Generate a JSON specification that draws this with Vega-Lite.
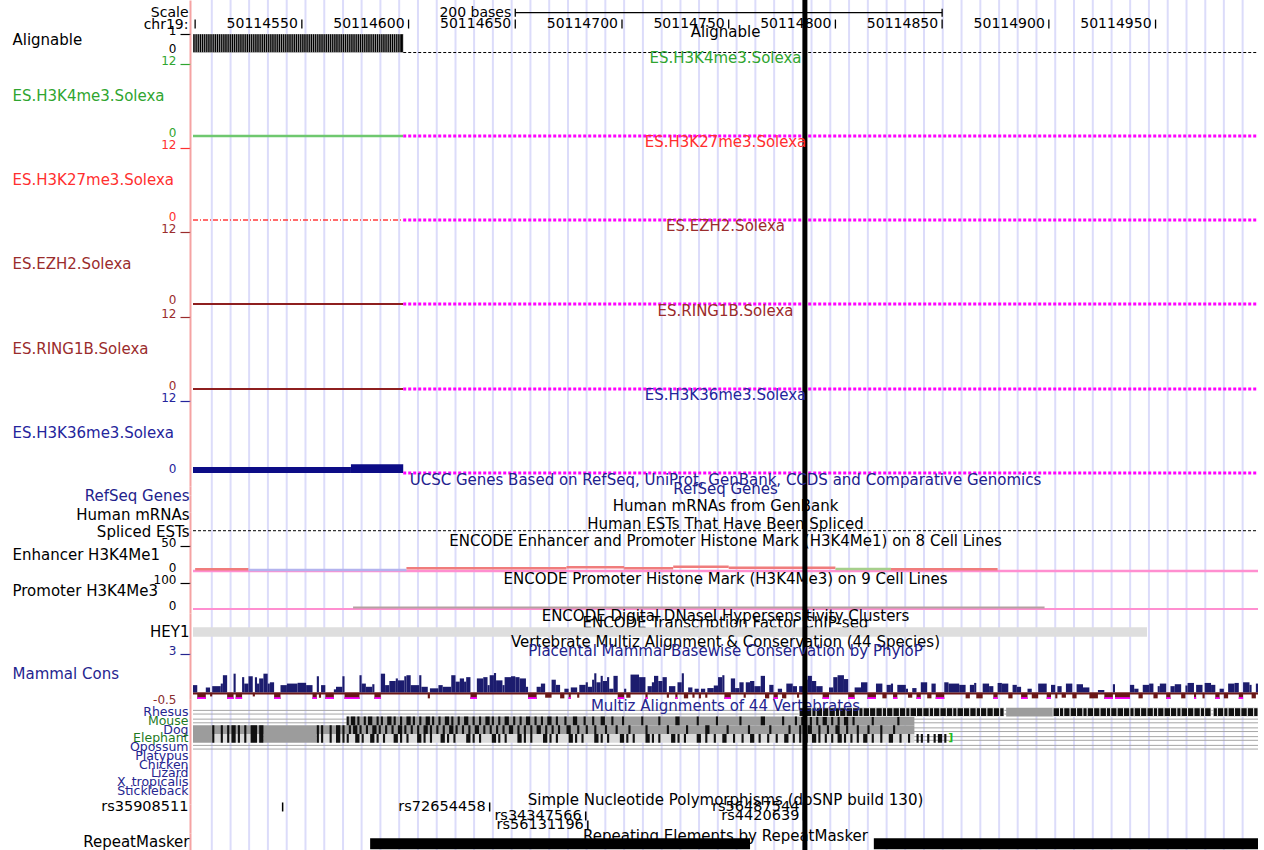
{
"$schema": "https://vega.github.io/schema/vega-lite/v6.json",
"usermeta": {"embedOptions": {"actions": false}},
"background": "#ffffff",
"padding": {"left": 12, "top": 0, "right": 0, "bottom": 0},
"spacing": 0,
"bounds": "flush",
"resolve": {"scale": {"color": "independent"}},
"config": {
  "view": {"stroke": null},
  "font": "DejaVu Sans",
  "text": {"font": "DejaVu Sans", "fontSize": 15},
  "tick": {"opacity": 1},
  "axisX": {"disable": true},
  "axisY": {"offset": 3, "domainColor": "#f5a3a3", "domainWidth": 2, "grid": false, "ticks": false, "labelFont": "DejaVu Sans", "labelFontSize": 12, "labelColor": "#000000", "labelBaseline": "alphabetic", "labelPadding": 4, "labelAlign": "right", "tickSize": 10, "tickWidth": 1.2, "titleFont": "DejaVu Sans", "titleFontSize": 15, "titleFontWeight": "normal", "titleAngle": 0, "titleBaseline": "middle", "titleColor": "#000000", "titlePadding": 0},
  "concat": {"spacing": 0}
},
"datasets": {
  "guides": [{"g":50114507.8},{"g":50114516.6},{"g":50114525.3},{"g":50114534.1},{"g":50114542.9},{"g":50114551.7},{"g":50114560.5},{"g":50114569.3},{"g":50114578.0},{"g":50114586.8},{"g":50114595.6},{"g":50114604.4},{"g":50114613.2},{"g":50114622.0},{"g":50114630.7},{"g":50114639.5},{"g":50114648.3},{"g":50114657.1},{"g":50114665.9},{"g":50114674.7},{"g":50114683.4},{"g":50114692.2},{"g":50114701.0},{"g":50114709.8},{"g":50114718.6},{"g":50114727.4},{"g":50114736.1},{"g":50114744.9},{"g":50114753.7},{"g":50114762.5},{"g":50114771.3},{"g":50114780.0},{"g":50114788.8},{"g":50114797.6},{"g":50114806.4},{"g":50114815.2},{"g":50114824.0},{"g":50114832.7},{"g":50114841.5},{"g":50114850.3},{"g":50114859.1},{"g":50114867.9},{"g":50114876.7},{"g":50114885.4},{"g":50114894.2},{"g":50114903.0},{"g":50114911.8},{"g":50114920.6},{"g":50114929.4},{"g":50114938.1},{"g":50114946.9},{"g":50114955.7},{"g":50114964.5},{"g":50114973.3},{"g":50114982.0},{"g":50114990.8}],
  "marker": [{"pos": 50114785.7}],
  "ruler": [{"pos":50114500,"label":"","line":"chr19:"},{"pos":50114550,"label":"50114550","line":"chr19:"},{"pos":50114600,"label":"50114600","line":"chr19:"},{"pos":50114650,"label":"50114650","line":"chr19:"},{"pos":50114700,"label":"50114700","line":"chr19:"},{"pos":50114750,"label":"50114750","line":"chr19:"},{"pos":50114800,"label":"50114800","line":"chr19:"},{"pos":50114850,"label":"50114850","line":"chr19:"},{"pos":50114900,"label":"50114900","line":"chr19:"},{"pos":50114950,"label":"50114950","line":"chr19:"}],
  "scalebar": [{"s":50114650,"e":50114850,"label":"200 bases","line":"Scale"}],
  "alignable": [
{"s":50114499,"e":50114500,"v":1},{"s":50114500,"e":50114501,"v":1},{"s":50114501,"e":50114502,"v":1},{"s":50114502,"e":50114503,"v":1},{"s":50114503,"e":50114504,"v":1},{"s":50114504,"e":50114505,"v":1},{"s":50114505,"e":50114506,"v":1},{"s":50114506,"e":50114507,"v":1},{"s":50114507,"e":50114508,"v":1},{"s":50114508,"e":50114509,"v":1},
{"s":50114509,"e":50114510,"v":1},{"s":50114510,"e":50114511,"v":1},{"s":50114511,"e":50114512,"v":1},{"s":50114512,"e":50114513,"v":1},{"s":50114513,"e":50114514,"v":1},{"s":50114514,"e":50114515,"v":1},{"s":50114515,"e":50114516,"v":1},{"s":50114516,"e":50114517,"v":1},{"s":50114517,"e":50114518,"v":1},{"s":50114518,"e":50114519,"v":1},
{"s":50114519,"e":50114520,"v":1},{"s":50114520,"e":50114521,"v":1},{"s":50114521,"e":50114522,"v":1},{"s":50114522,"e":50114523,"v":1},{"s":50114523,"e":50114524,"v":1},{"s":50114524,"e":50114525,"v":1},{"s":50114525,"e":50114526,"v":1},{"s":50114526,"e":50114527,"v":1},{"s":50114527,"e":50114528,"v":1},{"s":50114528,"e":50114529,"v":1},
{"s":50114529,"e":50114530,"v":1},{"s":50114530,"e":50114531,"v":1},{"s":50114531,"e":50114532,"v":1},{"s":50114532,"e":50114533,"v":1},{"s":50114533,"e":50114534,"v":1},{"s":50114534,"e":50114535,"v":1},{"s":50114535,"e":50114536,"v":1},{"s":50114536,"e":50114537,"v":1},{"s":50114537,"e":50114538,"v":1},{"s":50114538,"e":50114539,"v":1},
{"s":50114539,"e":50114540,"v":1},{"s":50114540,"e":50114541,"v":1},{"s":50114541,"e":50114542,"v":1},{"s":50114542,"e":50114543,"v":1},{"s":50114543,"e":50114544,"v":1},{"s":50114544,"e":50114545,"v":1},{"s":50114545,"e":50114546,"v":1},{"s":50114546,"e":50114547,"v":1},{"s":50114547,"e":50114548,"v":1},{"s":50114548,"e":50114549,"v":1},
{"s":50114549,"e":50114550,"v":1},{"s":50114550,"e":50114551,"v":1},{"s":50114551,"e":50114552,"v":1},{"s":50114552,"e":50114553,"v":1},{"s":50114553,"e":50114554,"v":1},{"s":50114554,"e":50114555,"v":1},{"s":50114555,"e":50114556,"v":1},{"s":50114556,"e":50114557,"v":1},{"s":50114557,"e":50114558,"v":1},{"s":50114558,"e":50114559,"v":1},
{"s":50114559,"e":50114560,"v":1},{"s":50114560,"e":50114561,"v":1},{"s":50114561,"e":50114562,"v":1},{"s":50114562,"e":50114563,"v":1},{"s":50114563,"e":50114564,"v":1},{"s":50114564,"e":50114565,"v":1},{"s":50114565,"e":50114566,"v":1},{"s":50114566,"e":50114567,"v":1},{"s":50114567,"e":50114568,"v":1},{"s":50114568,"e":50114569,"v":1},
{"s":50114569,"e":50114570,"v":1},{"s":50114570,"e":50114571,"v":1},{"s":50114571,"e":50114572,"v":1},{"s":50114572,"e":50114573,"v":1},{"s":50114573,"e":50114574,"v":1},{"s":50114574,"e":50114575,"v":1},{"s":50114575,"e":50114576,"v":1},{"s":50114576,"e":50114577,"v":1},{"s":50114577,"e":50114578,"v":1},{"s":50114578,"e":50114579,"v":1},
{"s":50114579,"e":50114580,"v":1},{"s":50114580,"e":50114581,"v":1},{"s":50114581,"e":50114582,"v":1},{"s":50114582,"e":50114583,"v":1},{"s":50114583,"e":50114584,"v":1},{"s":50114584,"e":50114585,"v":1},{"s":50114585,"e":50114586,"v":1},{"s":50114586,"e":50114587,"v":1},{"s":50114587,"e":50114588,"v":1},{"s":50114588,"e":50114589,"v":1},
{"s":50114589,"e":50114590,"v":1},{"s":50114590,"e":50114591,"v":1},{"s":50114591,"e":50114592,"v":1},{"s":50114592,"e":50114593,"v":1},{"s":50114593,"e":50114594,"v":1},{"s":50114594,"e":50114595,"v":1},{"s":50114595,"e":50114596,"v":1},{"s":50114596,"e":50114597.5,"v":1}],
  "es": [
{"track":"H3K4me3","kind":"signal","s":50114499,"e":50114597.5,"v":0},{"track":"H3K4me3","kind":"nodata","s":50114597.5,"e":50114998,"v":0},
{"track":"H3K27me3","kind":"signal","s":50114499,"e":50114597.5,"v":0},{"track":"H3K27me3","kind":"nodata","s":50114597.5,"e":50114998,"v":0},
{"track":"EZH2","kind":"signal","s":50114499,"e":50114597.5,"v":0},{"track":"EZH2","kind":"nodata","s":50114597.5,"e":50114998,"v":0},
{"track":"RING1B","kind":"signal","s":50114499,"e":50114597.5,"v":0},{"track":"RING1B","kind":"nodata","s":50114597.5,"e":50114998,"v":0},
{"track":"H3K36me3","kind":"signal","s":50114499,"e":50114573,"v":1.0},{"track":"H3K36me3","kind":"signal","s":50114573,"e":50114597.5,"v":1.45},{"track":"H3K36me3","kind":"nodata","s":50114597.5,"e":50114998,"v":0}],
  "enh": [{"cell":"HUVEC","s":50114499,"e":50114998,"v":0},{"cell":"K562","s":50114500,"e":50114525,"v":3.3},{"cell":"HMEC","s":50114525,"e":50114599,"v":2},{"cell":"K562","s":50114599,"e":50114674,"v":5.3},{"cell":"K562","s":50114674,"e":50114701,"v":7.3},{"cell":"K562","s":50114701,"e":50114724,"v":5.5},{"cell":"K562","s":50114724,"e":50114750,"v":8.4},{"cell":"K562","s":50114750,"e":50114800,"v":6.5},{"cell":"H1-hESC","s":50114800,"e":50114826,"v":4},{"cell":"K562","s":50114826,"e":50114876,"v":3.3}],
  "prom": [{"cell":"HUVEC","s":50114499,"e":50114998,"v":0},{"cell":"GM12878","s":50114574,"e":50114898,"v":5.7}],
  "tfbs": [{"name":"HEY1","s":50114499,"e":50114946}],
  "phylop": [
{"s":50114499,"e":50114501,"v":0.58},{"s":50114501,"e":50114505,"v":-0.6},{"s":50114505,"e":50114507,"v":0.4},{"s":50114507,"e":50114508,"v":-0.3},{"s":50114508,"e":50114512,"v":0.5},{"s":50114512,"e":50114513,"v":0.7},{"s":50114513,"e":50114515,"v":1.35},{"s":50114515,"e":50114518,"v":-0.6},{"s":50114518,"e":50114519,"v":1.47},{"s":50114519,"e":50114522,"v":-0.6},
{"s":50114522,"e":50114523,"v":1.2},{"s":50114523,"e":50114525,"v":0.7},{"s":50114525,"e":50114527,"v":1.27},{"s":50114527,"e":50114528,"v":-0.3},{"s":50114528,"e":50114529,"v":1.2},{"s":50114529,"e":50114530,"v":0.7},{"s":50114530,"e":50114532,"v":1.1},{"s":50114532,"e":50114534,"v":1.47},{"s":50114534,"e":50114535,"v":0.7},{"s":50114535,"e":50114537,"v":0.8},
{"s":50114537,"e":50114540,"v":-0.6},{"s":50114540,"e":50114543,"v":0.58},{"s":50114543,"e":50114548,"v":0.7},{"s":50114548,"e":50114552,"v":0.76},{"s":50114552,"e":50114555,"v":0.58},{"s":50114555,"e":50114557,"v":-0.6},{"s":50114557,"e":50114558,"v":1.27},{"s":50114558,"e":50114559,"v":-0.4},{"s":50114559,"e":50114561,"v":0.58},{"s":50114561,"e":50114565,"v":-0.6},
{"s":50114565,"e":50114566,"v":0.25},{"s":50114566,"e":50114569,"v":0.45},{"s":50114569,"e":50114570,"v":1.27},{"s":50114570,"e":50114577,"v":-0.6},{"s":50114577,"e":50114578,"v":1.35},{"s":50114578,"e":50114580,"v":0.7},{"s":50114580,"e":50114583,"v":0.45},{"s":50114583,"e":50114584,"v":0.65},{"s":50114584,"e":50114587,"v":-0.6},{"s":50114587,"e":50114589,"v":1.47},
{"s":50114589,"e":50114591,"v":0.58},{"s":50114591,"e":50114594,"v":0.9},{"s":50114594,"e":50114595,"v":1.1},{"s":50114595,"e":50114598,"v":0.95},{"s":50114598,"e":50114599,"v":1.27},{"s":50114599,"e":50114601,"v":1.35},{"s":50114601,"e":50114605,"v":0.58},{"s":50114605,"e":50114606,"v":1.35},{"s":50114606,"e":50114609,"v":0.45},{"s":50114609,"e":50114610,"v":-0.45},
{"s":50114610,"e":50114614,"v":0.33},{"s":50114614,"e":50114616,"v":0.58},{"s":50114616,"e":50114620,"v":0.45},{"s":50114620,"e":50114622,"v":1.35},{"s":50114622,"e":50114624,"v":0.85},{"s":50114624,"e":50114626,"v":1.1},{"s":50114626,"e":50114627,"v":0.85},{"s":50114627,"e":50114629,"v":1.2},{"s":50114629,"e":50114632,"v":-0.6},{"s":50114632,"e":50114635,"v":1.1},
{"s":50114635,"e":50114637,"v":1.2},{"s":50114637,"e":50114638,"v":0.58},{"s":50114638,"e":50114640,"v":1.35},{"s":50114640,"e":50114641,"v":1.52},{"s":50114641,"e":50114644,"v":0.95},{"s":50114644,"e":50114645,"v":0.58},{"s":50114645,"e":50114648,"v":1.2},{"s":50114648,"e":50114650,"v":1.27},{"s":50114650,"e":50114652,"v":1.2},{"s":50114652,"e":50114655,"v":1.1},
{"s":50114655,"e":50114656,"v":0.45},{"s":50114656,"e":50114660,"v":-0.6},{"s":50114660,"e":50114662,"v":0.45},{"s":50114662,"e":50114664,"v":0.7},{"s":50114664,"e":50114667,"v":-0.4},{"s":50114667,"e":50114669,"v":1.0},{"s":50114669,"e":50114671,"v":0.6},{"s":50114671,"e":50114673,"v":-0.45},{"s":50114673,"e":50114675,"v":0.3},{"s":50114675,"e":50114676,"v":-0.6},
{"s":50114676,"e":50114679,"v":0.4},{"s":50114679,"e":50114680,"v":-0.4},{"s":50114680,"e":50114683,"v":0.6},{"s":50114683,"e":50114684,"v":0.8},{"s":50114684,"e":50114686,"v":0.45},{"s":50114686,"e":50114687,"v":1.0},{"s":50114687,"e":50114688,"v":1.5},{"s":50114688,"e":50114690,"v":0.8},{"s":50114690,"e":50114691,"v":1.3},{"s":50114691,"e":50114693,"v":0.9},
{"s":50114693,"e":50114694,"v":1.2},{"s":50114694,"e":50114696,"v":0.3},{"s":50114696,"e":50114698,"v":1.3},{"s":50114698,"e":50114701,"v":-0.6},{"s":50114701,"e":50114702,"v":0.3},{"s":50114702,"e":50114704,"v":-0.4},{"s":50114704,"e":50114708,"v":1.4},{"s":50114708,"e":50114711,"v":1.2},{"s":50114711,"e":50114712,"v":-0.6},{"s":50114712,"e":50114714,"v":0.5},
{"s":50114714,"e":50114715,"v":0.8},{"s":50114715,"e":50114717,"v":1.3},{"s":50114717,"e":50114719,"v":0.9},{"s":50114719,"e":50114721,"v":1.2},{"s":50114721,"e":50114722,"v":-0.4},{"s":50114722,"e":50114725,"v":0.5},{"s":50114725,"e":50114726,"v":-0.6},{"s":50114726,"e":50114728,"v":0.8},{"s":50114728,"e":50114729,"v":1.5},{"s":50114729,"e":50114731,"v":-0.45},
{"s":50114731,"e":50114733,"v":0.4},{"s":50114733,"e":50114734,"v":-0.4},{"s":50114734,"e":50114736,"v":0.3},{"s":50114736,"e":50114737,"v":-0.45},{"s":50114737,"e":50114739,"v":0.3},{"s":50114739,"e":50114740,"v":-0.4},{"s":50114740,"e":50114743,"v":0.35},{"s":50114743,"e":50114745,"v":0.55},{"s":50114745,"e":50114747,"v":1.2},{"s":50114747,"e":50114748,"v":1.35},
{"s":50114748,"e":50114751,"v":-0.6},{"s":50114751,"e":50114753,"v":1.1},{"s":50114753,"e":50114755,"v":0.35},{"s":50114755,"e":50114757,"v":0.8},{"s":50114757,"e":50114758,"v":-0.4},{"s":50114758,"e":50114760,"v":0.8},{"s":50114760,"e":50114762,"v":0.9},{"s":50114762,"e":50114765,"v":0.5},{"s":50114765,"e":50114767,"v":1.3},{"s":50114767,"e":50114769,"v":-0.45},
{"s":50114769,"e":50114771,"v":0.6},{"s":50114771,"e":50114773,"v":-0.6},{"s":50114773,"e":50114775,"v":0.3},{"s":50114775,"e":50114777,"v":-0.45},{"s":50114777,"e":50114780,"v":0.7},{"s":50114780,"e":50114782,"v":0.5},{"s":50114782,"e":50114783,"v":-0.4},{"s":50114783,"e":50114785,"v":0.5},{"s":50114785,"e":50114787,"v":1.0},{"s":50114787,"e":50114789,"v":1.3},
{"s":50114789,"e":50114791,"v":0.9},{"s":50114791,"e":50114794,"v":0.5},{"s":50114794,"e":50114797,"v":-0.6},{"s":50114797,"e":50114799,"v":0.4},{"s":50114799,"e":50114801,"v":1.2},{"s":50114801,"e":50114804,"v":1.35},{"s":50114804,"e":50114806,"v":1.05},{"s":50114806,"e":50114809,"v":-0.6},{"s":50114809,"e":50114812,"v":0.4},{"s":50114812,"e":50114815,"v":0.8},
{"s":50114815,"e":50114819,"v":-0.6},{"s":50114819,"e":50114822,"v":0.7},{"s":50114822,"e":50114824,"v":-0.45},{"s":50114824,"e":50114826,"v":0.6},{"s":50114826,"e":50114827,"v":0.7},{"s":50114827,"e":50114829,"v":-0.6},{"s":50114829,"e":50114833,"v":0.6},{"s":50114833,"e":50114834,"v":0.3},{"s":50114834,"e":50114836,"v":-0.4},{"s":50114836,"e":50114838,"v":0.35},
{"s":50114838,"e":50114840,"v":-0.6},{"s":50114840,"e":50114843,"v":0.8},{"s":50114843,"e":50114845,"v":-0.45},{"s":50114845,"e":50114847,"v":0.7},{"s":50114847,"e":50114851,"v":-0.6},{"s":50114851,"e":50114853,"v":0.8},{"s":50114853,"e":50114858,"v":0.7},{"s":50114858,"e":50114861,"v":0.6},{"s":50114861,"e":50114863,"v":-0.45},{"s":50114863,"e":50114865,"v":0.6},
{"s":50114865,"e":50114866,"v":0.75},{"s":50114866,"e":50114869,"v":-0.45},{"s":50114869,"e":50114872,"v":0.7},{"s":50114872,"e":50114874,"v":0.5},{"s":50114874,"e":50114876,"v":-0.6},{"s":50114876,"e":50114878,"v":0.75},{"s":50114878,"e":50114881,"v":0.7},{"s":50114881,"e":50114883,"v":-0.45},{"s":50114883,"e":50114885,"v":0.6},{"s":50114885,"e":50114887,"v":0.45},
{"s":50114887,"e":50114890,"v":-0.6},{"s":50114890,"e":50114892,"v":0.3},{"s":50114892,"e":50114895,"v":-0.45},{"s":50114895,"e":50114899,"v":0.7},{"s":50114899,"e":50114901,"v":-0.6},{"s":50114901,"e":50114903,"v":0.6},{"s":50114903,"e":50114904,"v":-0.45},{"s":50114904,"e":50114906,"v":0.5},{"s":50114906,"e":50114908,"v":-0.4},{"s":50114908,"e":50114911,"v":0.7},
{"s":50114911,"e":50114913,"v":-0.45},{"s":50114913,"e":50114916,"v":0.65},{"s":50114916,"e":50114919,"v":0.4},{"s":50114919,"e":50114923,"v":-0.45},{"s":50114923,"e":50114926,"v":0.2},{"s":50114926,"e":50114930,"v":-0.6},{"s":50114930,"e":50114931,"v":0.65},{"s":50114931,"e":50114938,"v":-0.6},{"s":50114938,"e":50114940,"v":0.6},{"s":50114940,"e":50114942,"v":0.3},
{"s":50114942,"e":50114944,"v":-0.45},{"s":50114944,"e":50114947,"v":0.6},{"s":50114947,"e":50114949,"v":0.7},{"s":50114949,"e":50114951,"v":-0.45},{"s":50114951,"e":50114952,"v":0.5},{"s":50114952,"e":50114955,"v":0.7},{"s":50114955,"e":50114957,"v":-0.6},{"s":50114957,"e":50114959,"v":0.5},{"s":50114959,"e":50114962,"v":0.65},{"s":50114962,"e":50114964,"v":-0.45},
{"s":50114964,"e":50114965,"v":0.55},{"s":50114965,"e":50114968,"v":0.75},{"s":50114968,"e":50114969,"v":-0.6},{"s":50114969,"e":50114972,"v":0.6},{"s":50114972,"e":50114973,"v":-0.45},{"s":50114973,"e":50114976,"v":0.75},{"s":50114976,"e":50114978,"v":0.6},{"s":50114978,"e":50114980,"v":-0.6},{"s":50114980,"e":50114982,"v":0.3},{"s":50114982,"e":50114984,"v":-0.45},
{"s":50114984,"e":50114987,"v":0.7},{"s":50114987,"e":50114989,"v":0.75},{"s":50114989,"e":50114991,"v":-0.6},{"s":50114991,"e":50114994,"v":0.8},{"s":50114994,"e":50114995,"v":0.6},{"s":50114995,"e":50114997,"v":-0.45},{"s":50114997,"e":50114998,"v":0.7}],
  "species": [{"sp":"Rhesus"},{"sp":"Mouse"},{"sp":"Dog"},{"sp":"Elephant"},{"sp":"Opossum"}],
  "multiz": [
{"sp":"Rhesus","s":50114880,"e":50114902,"c":"g"},{"sp":"Mouse","s":50114571,"e":50114837,"c":"g"},{"sp":"Dog","s":50114499,"e":50114837,"c":"g"},{"sp":"Elephant","s":50114499,"e":50114508,"c":"g"},{"sp":"Elephant","s":50114508,"e":50114532,"c":"l"},{"sp":"Elephant","s":50114532,"e":50114557,"c":"g"},{"sp":"Elephant","s":50114557,"e":50114837,"c":"l"},
{"sp":"Rhesus","s":50114783,"e":50114786,"c":"k"},{"sp":"Rhesus","s":50114786,"e":50114789,"c":"k"},{"sp":"Rhesus","s":50114789,"e":50114791,"c":"k"},{"sp":"Rhesus","s":50114791,"e":50114794,"c":"k"},{"sp":"Rhesus","s":50114794,"e":50114797,"c":"k"},{"sp":"Rhesus","s":50114797,"e":50114800,"c":"k"},{"sp":"Rhesus","s":50114800,"e":50114802,"c":"k"},{"sp":"Rhesus","s":50114802,"e":50114805,"c":"k"},{"sp":"Rhesus","s":50114805,"e":50114808,"c":"k"},{"sp":"Rhesus","s":50114808,"e":50114811,"c":"k"},
{"sp":"Rhesus","s":50114811,"e":50114813,"c":"k"},{"sp":"Rhesus","s":50114813,"e":50114816,"c":"k"},{"sp":"Rhesus","s":50114816,"e":50114819,"c":"k"},{"sp":"Rhesus","s":50114819,"e":50114822,"c":"k"},{"sp":"Rhesus","s":50114822,"e":50114824,"c":"k"},{"sp":"Rhesus","s":50114824,"e":50114827,"c":"k"},{"sp":"Rhesus","s":50114827,"e":50114830,"c":"k"},{"sp":"Rhesus","s":50114830,"e":50114833,"c":"k"},{"sp":"Rhesus","s":50114833,"e":50114835,"c":"k"},{"sp":"Rhesus","s":50114835,"e":50114838,"c":"k"},
{"sp":"Rhesus","s":50114838,"e":50114841,"c":"k"},{"sp":"Rhesus","s":50114841,"e":50114844,"c":"k"},{"sp":"Rhesus","s":50114844,"e":50114846,"c":"k"},{"sp":"Rhesus","s":50114846,"e":50114849,"c":"k"},{"sp":"Rhesus","s":50114849,"e":50114852,"c":"k"},{"sp":"Rhesus","s":50114852,"e":50114855,"c":"k"},{"sp":"Rhesus","s":50114855,"e":50114857,"c":"k"},{"sp":"Rhesus","s":50114857,"e":50114860,"c":"k"},{"sp":"Rhesus","s":50114860,"e":50114863,"c":"k"},{"sp":"Rhesus","s":50114863,"e":50114866,"c":"k"},
{"sp":"Rhesus","s":50114866,"e":50114868,"c":"k"},{"sp":"Rhesus","s":50114868,"e":50114871,"c":"k"},{"sp":"Rhesus","s":50114871,"e":50114874,"c":"k"},{"sp":"Rhesus","s":50114874,"e":50114877,"c":"k"},{"sp":"Rhesus","s":50114877,"e":50114879,"c":"k"},
{"sp":"Rhesus","s":50114902,"e":50114905,"c":"k"},{"sp":"Rhesus","s":50114905,"e":50114907,"c":"k"},{"sp":"Rhesus","s":50114907,"e":50114910,"c":"k"},{"sp":"Rhesus","s":50114910,"e":50114913,"c":"k"},{"sp":"Rhesus","s":50114913,"e":50114916,"c":"k"},{"sp":"Rhesus","s":50114916,"e":50114918,"c":"k"},{"sp":"Rhesus","s":50114918,"e":50114921,"c":"k"},{"sp":"Rhesus","s":50114921,"e":50114924,"c":"k"},{"sp":"Rhesus","s":50114924,"e":50114927,"c":"k"},{"sp":"Rhesus","s":50114927,"e":50114929,"c":"k"},
{"sp":"Rhesus","s":50114929,"e":50114932,"c":"k"},{"sp":"Rhesus","s":50114932,"e":50114935,"c":"k"},{"sp":"Rhesus","s":50114935,"e":50114938,"c":"k"},{"sp":"Rhesus","s":50114938,"e":50114940,"c":"k"},{"sp":"Rhesus","s":50114940,"e":50114943,"c":"k"},{"sp":"Rhesus","s":50114943,"e":50114946,"c":"k"},{"sp":"Rhesus","s":50114946,"e":50114949,"c":"k"},{"sp":"Rhesus","s":50114949,"e":50114951,"c":"k"},{"sp":"Rhesus","s":50114951,"e":50114954,"c":"k"},{"sp":"Rhesus","s":50114954,"e":50114957,"c":"k"},
{"sp":"Rhesus","s":50114957,"e":50114960,"c":"k"},{"sp":"Rhesus","s":50114960,"e":50114962,"c":"k"},{"sp":"Rhesus","s":50114962,"e":50114965,"c":"k"},{"sp":"Rhesus","s":50114965,"e":50114968,"c":"k"},{"sp":"Rhesus","s":50114968,"e":50114971,"c":"k"},{"sp":"Rhesus","s":50114971,"e":50114973,"c":"k"},{"sp":"Rhesus","s":50114973,"e":50114976,"c":"k"},{"sp":"Rhesus","s":50114977,"e":50114979,"c":"k"},{"sp":"Rhesus","s":50114979,"e":50114982,"c":"k"},{"sp":"Rhesus","s":50114982,"e":50114984,"c":"k"},
{"sp":"Rhesus","s":50114984,"e":50114987,"c":"k"},{"sp":"Rhesus","s":50114987,"e":50114990,"c":"k"},{"sp":"Rhesus","s":50114990,"e":50114993,"c":"k"},{"sp":"Rhesus","s":50114993,"e":50114996,"c":"k"},{"sp":"Rhesus","s":50114996,"e":50114998,"c":"k"},
{"sp":"Mouse","s":50114571,"e":50114572,"c":"k"},{"sp":"Mouse","s":50114573,"e":50114575,"c":"k"},{"sp":"Mouse","s":50114576,"e":50114577,"c":"k"},{"sp":"Mouse","s":50114579,"e":50114580,"c":"k"},{"sp":"Mouse","s":50114581,"e":50114583,"c":"k"},{"sp":"Mouse","s":50114585,"e":50114586,"c":"k"},{"sp":"Mouse","s":50114587,"e":50114588,"c":"k"},{"sp":"Mouse","s":50114590,"e":50114592,"c":"k"},{"sp":"Mouse","s":50114593,"e":50114594,"c":"k"},{"sp":"Mouse","s":50114596,"e":50114597,"c":"k"},
{"sp":"Mouse","s":50114599,"e":50114601,"c":"k"},{"sp":"Mouse","s":50114602,"e":50114603,"c":"k"},{"sp":"Mouse","s":50114605,"e":50114606,"c":"k"},{"sp":"Mouse","s":50114608,"e":50114610,"c":"k"},{"sp":"Mouse","s":50114611,"e":50114612,"c":"k"},{"sp":"Mouse","s":50114614,"e":50114615,"c":"k"},{"sp":"Mouse","s":50114617,"e":50114619,"c":"k"},{"sp":"Mouse","s":50114620,"e":50114621,"c":"k"},{"sp":"Mouse","s":50114623,"e":50114624,"c":"k"},{"sp":"Mouse","s":50114626,"e":50114628,"c":"k"},
{"sp":"Mouse","s":50114630,"e":50114631,"c":"k"},{"sp":"Mouse","s":50114633,"e":50114634,"c":"k"},{"sp":"Mouse","s":50114636,"e":50114638,"c":"k"},{"sp":"Mouse","s":50114639,"e":50114640,"c":"k"},{"sp":"Mouse","s":50114642,"e":50114643,"c":"k"},{"sp":"Mouse","s":50114645,"e":50114647,"c":"k"},{"sp":"Mouse","s":50114649,"e":50114650,"c":"k"},{"sp":"Mouse","s":50114652,"e":50114653,"c":"k"},{"sp":"Mouse","s":50114655,"e":50114657,"c":"k"},{"sp":"Mouse","s":50114659,"e":50114660,"c":"k"},
{"sp":"Mouse","s":50114662,"e":50114663,"c":"k"},{"sp":"Mouse","s":50114665,"e":50114667,"c":"k"},{"sp":"Mouse","s":50114669,"e":50114670,"c":"k"},{"sp":"Mouse","s":50114673,"e":50114674,"c":"k"},{"sp":"Mouse","s":50114677,"e":50114679,"c":"k"},{"sp":"Mouse","s":50114682,"e":50114683,"c":"k"},{"sp":"Mouse","s":50114686,"e":50114687,"c":"k"},{"sp":"Mouse","s":50114690,"e":50114692,"c":"k"},{"sp":"Mouse","s":50114695,"e":50114696,"c":"k"},{"sp":"Mouse","s":50114700,"e":50114701,"c":"k"},
{"sp":"Mouse","s":50114709,"e":50114710,"c":"k"},{"sp":"Mouse","s":50114717,"e":50114718,"c":"k"},{"sp":"Mouse","s":50114725,"e":50114727,"c":"k"},{"sp":"Mouse","s":50114735,"e":50114736,"c":"k"},{"sp":"Mouse","s":50114744,"e":50114745,"c":"k"},{"sp":"Mouse","s":50114755,"e":50114756,"c":"k"},{"sp":"Mouse","s":50114765,"e":50114767,"c":"k"},{"sp":"Mouse","s":50114775,"e":50114776,"c":"k"},{"sp":"Mouse","s":50114781,"e":50114782,"c":"k"},{"sp":"Mouse","s":50114784,"e":50114786,"c":"k"},
{"sp":"Mouse","s":50114788,"e":50114789,"c":"k"},{"sp":"Mouse","s":50114791,"e":50114792,"c":"k"},{"sp":"Mouse","s":50114794,"e":50114796,"c":"k"},{"sp":"Mouse","s":50114798,"e":50114799,"c":"k"},{"sp":"Mouse","s":50114801,"e":50114802,"c":"k"},{"sp":"Mouse","s":50114804,"e":50114806,"c":"k"},{"sp":"Mouse","s":50114808,"e":50114809,"c":"k"},{"sp":"Mouse","s":50114817,"e":50114818,"c":"k"},{"sp":"Mouse","s":50114829,"e":50114830,"c":"k"},
{"sp":"Dog","s":50114508,"e":50114509,"c":"k"},{"sp":"Dog","s":50114512,"e":50114513,"c":"k"},{"sp":"Dog","s":50114515,"e":50114516,"c":"k"},{"sp":"Dog","s":50114517,"e":50114519,"c":"k"},{"sp":"Dog","s":50114520,"e":50114521,"c":"k"},{"sp":"Dog","s":50114523,"e":50114524,"c":"k"},{"sp":"Dog","s":50114526,"e":50114529,"c":"k"},{"sp":"Dog","s":50114530,"e":50114532,"c":"k"},{"sp":"Dog","s":50114557,"e":50114558,"c":"k"},{"sp":"Dog","s":50114559,"e":50114560,"c":"k"},
{"sp":"Dog","s":50114563,"e":50114564,"c":"k"},{"sp":"Dog","s":50114566,"e":50114568,"c":"k"},{"sp":"Dog","s":50114569,"e":50114570,"c":"k"},
{"sp":"Dog","s":50114572,"e":50114573,"c":"k"},{"sp":"Dog","s":50114574,"e":50114576,"c":"k"},{"sp":"Dog","s":50114577,"e":50114578,"c":"k"},{"sp":"Dog","s":50114580,"e":50114581,"c":"k"},{"sp":"Dog","s":50114583,"e":50114585,"c":"k"},{"sp":"Dog","s":50114586,"e":50114587,"c":"k"},{"sp":"Dog","s":50114589,"e":50114590,"c":"k"},{"sp":"Dog","s":50114592,"e":50114593,"c":"k"},{"sp":"Dog","s":50114595,"e":50114597,"c":"k"},{"sp":"Dog","s":50114598,"e":50114599,"c":"k"},
{"sp":"Dog","s":50114601,"e":50114602,"c":"k"},{"sp":"Dog","s":50114604,"e":50114605,"c":"k"},{"sp":"Dog","s":50114607,"e":50114609,"c":"k"},{"sp":"Dog","s":50114610,"e":50114611,"c":"k"},{"sp":"Dog","s":50114613,"e":50114614,"c":"k"},{"sp":"Dog","s":50114616,"e":50114617,"c":"k"},{"sp":"Dog","s":50114619,"e":50114621,"c":"k"},{"sp":"Dog","s":50114622,"e":50114623,"c":"k"},{"sp":"Dog","s":50114625,"e":50114626,"c":"k"},{"sp":"Dog","s":50114628,"e":50114629,"c":"k"},
{"sp":"Dog","s":50114631,"e":50114633,"c":"k"},{"sp":"Dog","s":50114635,"e":50114636,"c":"k"},{"sp":"Dog","s":50114638,"e":50114639,"c":"k"},{"sp":"Dog","s":50114641,"e":50114642,"c":"k"},{"sp":"Dog","s":50114644,"e":50114645,"c":"k"},{"sp":"Dog","s":50114647,"e":50114649,"c":"k"},{"sp":"Dog","s":50114651,"e":50114652,"c":"k"},{"sp":"Dog","s":50114654,"e":50114655,"c":"k"},{"sp":"Dog","s":50114657,"e":50114658,"c":"k"},{"sp":"Dog","s":50114660,"e":50114662,"c":"k"},
{"sp":"Dog","s":50114664,"e":50114665,"c":"k"},{"sp":"Dog","s":50114667,"e":50114668,"c":"k"},{"sp":"Dog","s":50114670,"e":50114671,"c":"k"},{"sp":"Dog","s":50114674,"e":50114676,"c":"k"},{"sp":"Dog","s":50114679,"e":50114680,"c":"k"},{"sp":"Dog","s":50114683,"e":50114684,"c":"k"},{"sp":"Dog","s":50114687,"e":50114688,"c":"k"},{"sp":"Dog","s":50114692,"e":50114693,"c":"k"},{"sp":"Dog","s":50114697,"e":50114698,"c":"k"},{"sp":"Dog","s":50114703,"e":50114704,"c":"k"},
{"sp":"Dog","s":50114711,"e":50114712,"c":"k"},{"sp":"Dog","s":50114721,"e":50114722,"c":"k"},{"sp":"Dog","s":50114730,"e":50114731,"c":"k"},{"sp":"Dog","s":50114739,"e":50114741,"c":"k"},{"sp":"Dog","s":50114749,"e":50114750,"c":"k"},{"sp":"Dog","s":50114759,"e":50114760,"c":"k"},{"sp":"Dog","s":50114769,"e":50114770,"c":"k"},{"sp":"Dog","s":50114778,"e":50114779,"c":"k"},{"sp":"Dog","s":50114783,"e":50114784,"c":"k"},{"sp":"Dog","s":50114787,"e":50114789,"c":"k"},
{"sp":"Dog","s":50114792,"e":50114793,"c":"k"},{"sp":"Dog","s":50114796,"e":50114797,"c":"k"},{"sp":"Dog","s":50114800,"e":50114802,"c":"k"},{"sp":"Dog","s":50114805,"e":50114806,"c":"k"},{"sp":"Dog","s":50114810,"e":50114811,"c":"k"},{"sp":"Dog","s":50114815,"e":50114816,"c":"k"},{"sp":"Dog","s":50114821,"e":50114822,"c":"k"},{"sp":"Dog","s":50114827,"e":50114828,"c":"k"},
{"sp":"Elephant","s":50114508,"e":50114509,"c":"k"},{"sp":"Elephant","s":50114512,"e":50114513,"c":"k"},{"sp":"Elephant","s":50114515,"e":50114516,"c":"k"},{"sp":"Elephant","s":50114517,"e":50114519,"c":"k"},{"sp":"Elephant","s":50114520,"e":50114521,"c":"k"},{"sp":"Elephant","s":50114523,"e":50114524,"c":"k"},{"sp":"Elephant","s":50114526,"e":50114529,"c":"k"},{"sp":"Elephant","s":50114530,"e":50114532,"c":"k"},{"sp":"Elephant","s":50114557,"e":50114558,"c":"k"},{"sp":"Elephant","s":50114559,"e":50114560,"c":"k"},
{"sp":"Elephant","s":50114563,"e":50114564,"c":"k"},{"sp":"Elephant","s":50114566,"e":50114568,"c":"k"},{"sp":"Elephant","s":50114569,"e":50114570,"c":"k"},
{"sp":"Elephant","s":50114571,"e":50114572,"c":"k"},{"sp":"Elephant","s":50114575,"e":50114577,"c":"k"},{"sp":"Elephant","s":50114578,"e":50114579,"c":"k"},{"sp":"Elephant","s":50114582,"e":50114584,"c":"k"},{"sp":"Elephant","s":50114585,"e":50114586,"c":"k"},{"sp":"Elephant","s":50114588,"e":50114589,"c":"k"},{"sp":"Elephant","s":50114593,"e":50114595,"c":"k"},{"sp":"Elephant","s":50114596,"e":50114597,"c":"k"},{"sp":"Elephant","s":50114599,"e":50114600,"c":"k"},{"sp":"Elephant","s":50114604,"e":50114606,"c":"k"},
{"sp":"Elephant","s":50114607,"e":50114608,"c":"k"},{"sp":"Elephant","s":50114610,"e":50114611,"c":"k"},{"sp":"Elephant","s":50114615,"e":50114617,"c":"k"},{"sp":"Elephant","s":50114618,"e":50114619,"c":"k"},{"sp":"Elephant","s":50114621,"e":50114622,"c":"k"},{"sp":"Elephant","s":50114627,"e":50114629,"c":"k"},{"sp":"Elephant","s":50114630,"e":50114631,"c":"k"},{"sp":"Elephant","s":50114633,"e":50114634,"c":"k"},{"sp":"Elephant","s":50114639,"e":50114641,"c":"k"},{"sp":"Elephant","s":50114642,"e":50114643,"c":"k"},
{"sp":"Elephant","s":50114645,"e":50114646,"c":"k"},{"sp":"Elephant","s":50114651,"e":50114653,"c":"k"},{"sp":"Elephant","s":50114654,"e":50114655,"c":"k"},{"sp":"Elephant","s":50114657,"e":50114658,"c":"k"},{"sp":"Elephant","s":50114663,"e":50114665,"c":"k"},{"sp":"Elephant","s":50114666,"e":50114667,"c":"k"},{"sp":"Elephant","s":50114669,"e":50114670,"c":"k"},{"sp":"Elephant","s":50114675,"e":50114677,"c":"k"},{"sp":"Elephant","s":50114678,"e":50114679,"c":"k"},{"sp":"Elephant","s":50114681,"e":50114682,"c":"k"},
{"sp":"Elephant","s":50114687,"e":50114689,"c":"k"},{"sp":"Elephant","s":50114690,"e":50114691,"c":"k"},{"sp":"Elephant","s":50114693,"e":50114694,"c":"k"},{"sp":"Elephant","s":50114699,"e":50114701,"c":"k"},{"sp":"Elephant","s":50114702,"e":50114703,"c":"k"},{"sp":"Elephant","s":50114705,"e":50114706,"c":"k"},{"sp":"Elephant","s":50114711,"e":50114713,"c":"k"},{"sp":"Elephant","s":50114714,"e":50114715,"c":"k"},{"sp":"Elephant","s":50114717,"e":50114718,"c":"k"},{"sp":"Elephant","s":50114723,"e":50114725,"c":"k"},
{"sp":"Elephant","s":50114726,"e":50114727,"c":"k"},{"sp":"Elephant","s":50114729,"e":50114730,"c":"k"},{"sp":"Elephant","s":50114735,"e":50114737,"c":"k"},{"sp":"Elephant","s":50114739,"e":50114740,"c":"k"},{"sp":"Elephant","s":50114743,"e":50114744,"c":"k"},{"sp":"Elephant","s":50114747,"e":50114749,"c":"k"},{"sp":"Elephant","s":50114752,"e":50114753,"c":"k"},{"sp":"Elephant","s":50114756,"e":50114757,"c":"k"},{"sp":"Elephant","s":50114760,"e":50114762,"c":"k"},{"sp":"Elephant","s":50114764,"e":50114765,"c":"k"},
{"sp":"Elephant","s":50114768,"e":50114769,"c":"k"},{"sp":"Elephant","s":50114772,"e":50114773,"c":"k"},{"sp":"Elephant","s":50114776,"e":50114778,"c":"k"},{"sp":"Elephant","s":50114780,"e":50114781,"c":"k"},{"sp":"Elephant","s":50114783,"e":50114784,"c":"k"},{"sp":"Elephant","s":50114786,"e":50114787,"c":"k"},{"sp":"Elephant","s":50114789,"e":50114791,"c":"k"},{"sp":"Elephant","s":50114792,"e":50114793,"c":"k"},{"sp":"Elephant","s":50114795,"e":50114796,"c":"k"},{"sp":"Elephant","s":50114798,"e":50114799,"c":"k"},
{"sp":"Elephant","s":50114801,"e":50114803,"c":"k"},{"sp":"Elephant","s":50114804,"e":50114805,"c":"k"},{"sp":"Elephant","s":50114807,"e":50114808,"c":"k"},{"sp":"Elephant","s":50114810,"e":50114811,"c":"k"},{"sp":"Elephant","s":50114813,"e":50114815,"c":"k"},{"sp":"Elephant","s":50114817,"e":50114818,"c":"k"},{"sp":"Elephant","s":50114821,"e":50114822,"c":"k"},{"sp":"Elephant","s":50114825,"e":50114827,"c":"k"},{"sp":"Elephant","s":50114830,"e":50114831,"c":"k"},{"sp":"Elephant","s":50114834,"e":50114835,"c":"k"},
{"sp":"Elephant","s":50114838,"e":50114839,"c":"k"},{"sp":"Elephant","s":50114840,"e":50114841,"c":"k"},{"sp":"Elephant","s":50114843,"e":50114844,"c":"k"},{"sp":"Elephant","s":50114846,"e":50114847,"c":"k"},{"sp":"Elephant","s":50114848,"e":50114850,"c":"k"},{"sp":"Elephant","s":50114851,"e":50114852,"c":"k"}],
  "snps": [{"name":"rs35908511","pos":50114541,"row":1,"side":"left"},{"name":"rs72654458","pos":50114638,"row":1,"side":"in"},{"name":"rs56487544","pos":50114785,"row":1,"side":"in"},{"name":"rs34347566","pos":50114683,"row":2,"side":"in"},{"name":"rs4420639","pos":50114785,"row":2,"side":"in"},{"name":"rs56131196","pos":50114684,"row":3,"side":"in"}],
  "rmsk": [{"s":50114582,"e":50114760},{"s":50114818,"e":50114998}]
},
"vconcat": [
{"width":1065,"height":34,"layer":[
 {"data":{"name":"guides"},"mark":{"type":"tick","orient":"vertical","color":"#dcdcfa","thickness":2,"size":34},"encoding":{"x":{"field":"g","type":"quantitative","scale":{"domain":[50114499,50114998],"nice":false,"zero":false}}}},
 {"data":{"name":"ruler"},"mark":{"type":"tick","color":"#000000","thickness":1.3,"size":9},"encoding":{"x":{"field":"pos","type":"quantitative"},"y":{"field":"line","type":"nominal","scale":{"type":"point","domain":["Scale","chr19:"],"padding":1.4,"align":0.56},"axis":{"labelBaseline":"middle","labelPadding":2,"labelFontSize":14,"title":null}}}},
 {"data":{"name":"ruler"},"mark":{"type":"text","align":"right","baseline":"middle","dx":-4,"color":"#000000","fontSize":14},"encoding":{"x":{"field":"pos","type":"quantitative"},"y":{"field":"line","type":"nominal"},"text":{"field":"label","type":"nominal"}}},
 {"data":{"name":"scalebar"},"mark":{"type":"rule","color":"#000000","strokeWidth":1.3},"encoding":{"x":{"field":"s","type":"quantitative"},"x2":{"field":"e"},"y":{"field":"line","type":"nominal"}}},
 {"data":{"name":"scalebar"},"mark":{"type":"tick","color":"#000000","thickness":1.3,"size":8},"encoding":{"x":{"field":"s","type":"quantitative"},"y":{"field":"line","type":"nominal"}}},
 {"data":{"name":"scalebar"},"mark":{"type":"tick","color":"#000000","thickness":1.3,"size":8},"encoding":{"x":{"field":"e","type":"quantitative"},"y":{"field":"line","type":"nominal"}}},
 {"data":{"name":"scalebar"},"mark":{"type":"text","align":"right","baseline":"middle","dx":-4,"color":"#000000","fontSize":14},"encoding":{"x":{"field":"s","type":"quantitative"},"y":{"field":"line","type":"nominal"},"text":{"field":"label","type":"nominal"}}},
 {"data":{"name":"marker"},"mark":{"type":"tick","orient":"vertical","color":"#000000","thickness":5,"size":34},"encoding":{"x":{"field":"pos","type":"quantitative"}}}
]},
{"width":1065,"height":30,"layer":[
 {"data":{"name":"guides"},"mark":{"type":"tick","orient":"vertical","color":"#dcdcfa","thickness":2,"size":30},"encoding":{"x":{"field":"g","type":"quantitative","scale":{"domain":[50114499,50114998],"nice":false,"zero":false}}}},
 {"data":{"name":"alignable"},"mark":{"type":"rect","color":"#000000","stroke":"#ffffff","strokeWidth":0.35},"encoding":{"x":{"field":"s","type":"quantitative"},"x2":{"field":"e"},"y":{"field":"v","type":"quantitative","scale":{"domain":[-0.62,1],"nice":false,"zero":false},"axis":{"values":[0,1],"ticks":true,"tickColor":"#000000","tickOpacity":{"condition":{"test":"datum.value === 0","value":0},"value":1},"title":"Alignable","titleX":-178,"titleY":5.3,"titleAlign":"left"}},"y2":{"datum":0}}},
 {"data":{"values":[{"s":50114597.5,"e":50114998,"v":0}]},"mark":{"type":"rule","color":"#000000","strokeWidth":1,"strokeDash":[3,2]},"encoding":{"x":{"field":"s","type":"quantitative"},"x2":{"field":"e"},"y":{"field":"v","type":"quantitative"}}},
 {"data":{"values":[{"label":"Alignable"}]},"mark":{"type":"text","baseline":"alphabetic","dy":3.2,"color":"#000000"},"encoding":{"y":{"datum":1,"type":"quantitative"},"text":{"field":"label","type":"nominal"}}},
 {"data":{"name":"marker"},"mark":{"type":"tick","orient":"vertical","color":"#000000","thickness":5,"size":30},"encoding":{"x":{"field":"pos","type":"quantitative"}}}
]},
{"width":1065,"height":84,"layer":[
 {"data":{"name":"guides"},"mark":{"type":"tick","orient":"vertical","color":"#dcdcfa","thickness":2,"size":84},"encoding":{"x":{"field":"g","type":"quantitative","scale":{"domain":[50114499,50114998],"nice":false,"zero":false}}}},
 {"data":{"name":"es"},"transform":[{"filter":"datum.track === 'H3K4me3' && datum.kind === 'signal'"}],"mark":{"type":"rule","color":"#6fc86f","strokeWidth":2.5},"encoding":{"x":{"field":"s","type":"quantitative"},"x2":{"field":"e"},"y":{"field":"v","type":"quantitative","scale":{"domain":[-2,12],"nice":false,"zero":false},"axis":{"values":[0,12],"ticks":true,"tickColor":"#2fa52f","tickOpacity":{"condition":{"test":"datum.value === 0","value":0},"value":1},"labelColor":"#2fa52f","title":"ES.H3K4me3.Solexa","titleColor":"#2fa52f","titleX":-178,"titleY":31.5,"titleAlign":"left"}}}},
 {"data":{"name":"es"},"transform":[{"filter":"datum.track === 'H3K4me3' && datum.kind === 'nodata'"}],"mark":{"type":"rule","color":"#ff00ff","strokeWidth":3,"strokeDash":[3,2]},"encoding":{"x":{"field":"s","type":"quantitative"},"x2":{"field":"e"},"y":{"field":"v","type":"quantitative"}}},
 {"data":{"values":[{"label":"ES.H3K4me3.Solexa"}]},"mark":{"type":"text","baseline":"alphabetic","dy":-1.0,"color":"#2fa52f"},"encoding":{"y":{"datum":12,"type":"quantitative"},"text":{"field":"label","type":"nominal"}}},
 {"data":{"name":"marker"},"mark":{"type":"tick","orient":"vertical","color":"#000000","thickness":5,"size":84},"encoding":{"x":{"field":"pos","type":"quantitative"}}}
]},
{"width":1065,"height":84,"layer":[
 {"data":{"name":"guides"},"mark":{"type":"tick","orient":"vertical","color":"#dcdcfa","thickness":2,"size":84},"encoding":{"x":{"field":"g","type":"quantitative","scale":{"domain":[50114499,50114998],"nice":false,"zero":false}}}},
 {"data":{"name":"es"},"transform":[{"filter":"datum.track === 'H3K27me3' && datum.kind === 'signal'"}],"mark":{"type":"rule","color":"#ff3b3b","strokeWidth":1.5,"strokeDash":[5,2,1,2]},"encoding":{"x":{"field":"s","type":"quantitative"},"x2":{"field":"e"},"y":{"field":"v","type":"quantitative","scale":{"domain":[-2,12],"nice":false,"zero":false},"axis":{"values":[0,12],"ticks":true,"tickColor":"#ff2f2f","tickOpacity":{"condition":{"test":"datum.value === 0","value":0},"value":1},"labelColor":"#ff2f2f","title":"ES.H3K27me3.Solexa","titleColor":"#ff2f2f","titleX":-178,"titleY":31.5,"titleAlign":"left"}}}},
 {"data":{"name":"es"},"transform":[{"filter":"datum.track === 'H3K27me3' && datum.kind === 'nodata'"}],"mark":{"type":"rule","color":"#ff00ff","strokeWidth":3,"strokeDash":[3,2]},"encoding":{"x":{"field":"s","type":"quantitative"},"x2":{"field":"e"},"y":{"field":"v","type":"quantitative"}}},
 {"data":{"values":[{"label":"ES.H3K27me3.Solexa"}]},"mark":{"type":"text","baseline":"alphabetic","dy":-1.0,"color":"#ff2f2f"},"encoding":{"y":{"datum":12,"type":"quantitative"},"text":{"field":"label","type":"nominal"}}},
 {"data":{"name":"marker"},"mark":{"type":"tick","orient":"vertical","color":"#000000","thickness":5,"size":84},"encoding":{"x":{"field":"pos","type":"quantitative"}}}
]},
{"width":1065,"height":85,"layer":[
 {"data":{"name":"guides"},"mark":{"type":"tick","orient":"vertical","color":"#dcdcfa","thickness":2,"size":85},"encoding":{"x":{"field":"g","type":"quantitative","scale":{"domain":[50114499,50114998],"nice":false,"zero":false}}}},
 {"data":{"name":"es"},"transform":[{"filter":"datum.track === 'EZH2' && datum.kind === 'signal'"}],"mark":{"type":"rule","color":"#8e1f1f","strokeWidth":2},"encoding":{"x":{"field":"s","type":"quantitative"},"x2":{"field":"e"},"y":{"field":"v","type":"quantitative","scale":{"domain":[-2.1667,12],"nice":false,"zero":false},"axis":{"values":[0,12],"ticks":true,"tickColor":"#9a2c2c","tickOpacity":{"condition":{"test":"datum.value === 0","value":0},"value":1},"labelColor":"#9a2c2c","title":"ES.EZH2.Solexa","titleColor":"#9a2c2c","titleX":-178,"titleY":31.5,"titleAlign":"left"}}}},
 {"data":{"name":"es"},"transform":[{"filter":"datum.track === 'EZH2' && datum.kind === 'nodata'"}],"mark":{"type":"rule","color":"#ff00ff","strokeWidth":3,"strokeDash":[3,2]},"encoding":{"x":{"field":"s","type":"quantitative"},"x2":{"field":"e"},"y":{"field":"v","type":"quantitative"}}},
 {"data":{"values":[{"label":"ES.EZH2.Solexa"}]},"mark":{"type":"text","baseline":"alphabetic","dy":-1.0,"color":"#9a2c2c"},"encoding":{"y":{"datum":12,"type":"quantitative"},"text":{"field":"label","type":"nominal"}}},
 {"data":{"name":"marker"},"mark":{"type":"tick","orient":"vertical","color":"#000000","thickness":5,"size":85},"encoding":{"x":{"field":"pos","type":"quantitative"}}}
]},
{"width":1065,"height":84,"layer":[
 {"data":{"name":"guides"},"mark":{"type":"tick","orient":"vertical","color":"#dcdcfa","thickness":2,"size":84},"encoding":{"x":{"field":"g","type":"quantitative","scale":{"domain":[50114499,50114998],"nice":false,"zero":false}}}},
 {"data":{"name":"es"},"transform":[{"filter":"datum.track === 'RING1B' && datum.kind === 'signal'"}],"mark":{"type":"rule","color":"#8e1f1f","strokeWidth":2},"encoding":{"x":{"field":"s","type":"quantitative"},"x2":{"field":"e"},"y":{"field":"v","type":"quantitative","scale":{"domain":[-2,12],"nice":false,"zero":false},"axis":{"values":[0,12],"ticks":true,"tickColor":"#9a2c2c","tickOpacity":{"condition":{"test":"datum.value === 0","value":0},"value":1},"labelColor":"#9a2c2c","title":"ES.RING1B.Solexa","titleColor":"#9a2c2c","titleX":-178,"titleY":31.5,"titleAlign":"left"}}}},
 {"data":{"name":"es"},"transform":[{"filter":"datum.track === 'RING1B' && datum.kind === 'nodata'"}],"mark":{"type":"rule","color":"#ff00ff","strokeWidth":3,"strokeDash":[3,2]},"encoding":{"x":{"field":"s","type":"quantitative"},"x2":{"field":"e"},"y":{"field":"v","type":"quantitative"}}},
 {"data":{"values":[{"label":"ES.RING1B.Solexa"}]},"mark":{"type":"text","baseline":"alphabetic","dy":-1.0,"color":"#9a2c2c"},"encoding":{"y":{"datum":12,"type":"quantitative"},"text":{"field":"label","type":"nominal"}}},
 {"data":{"name":"marker"},"mark":{"type":"tick","orient":"vertical","color":"#000000","thickness":5,"size":84},"encoding":{"x":{"field":"pos","type":"quantitative"}}}
]},
{"width":1065,"height":85,"layer":[
 {"data":{"name":"guides"},"mark":{"type":"tick","orient":"vertical","color":"#dcdcfa","thickness":2,"size":85},"encoding":{"x":{"field":"g","type":"quantitative","scale":{"domain":[50114499,50114998],"nice":false,"zero":false}}}},
 {"data":{"name":"es"},"transform":[{"filter":"datum.track === 'H3K36me3' && datum.kind === 'signal'"}],"mark":{"type":"rect","color":"#0c0c86"},"encoding":{"x":{"field":"s","type":"quantitative"},"x2":{"field":"e"},"y":{"field":"v","type":"quantitative","scale":{"domain":[-2.1667,12],"nice":false,"zero":false},"axis":{"values":[0,12],"ticks":true,"tickColor":"#24249c","tickOpacity":{"condition":{"test":"datum.value === 0","value":0},"value":1},"labelColor":"#24249c","title":"ES.H3K36me3.Solexa","titleColor":"#24249c","titleX":-178,"titleY":31.5,"titleAlign":"left"}},"y2":{"datum":0}}},
 {"data":{"name":"es"},"transform":[{"filter":"datum.track === 'H3K36me3' && datum.kind === 'nodata'"}],"mark":{"type":"rule","color":"#ff00ff","strokeWidth":3,"strokeDash":[3,2]},"encoding":{"x":{"field":"s","type":"quantitative"},"x2":{"field":"e"},"y":{"field":"v","type":"quantitative"}}},
 {"data":{"values":[{"label":"ES.H3K36me3.Solexa"}]},"mark":{"type":"text","baseline":"alphabetic","dy":-1.0,"color":"#24249c"},"encoding":{"y":{"datum":12,"type":"quantitative"},"text":{"field":"label","type":"nominal"}}},
 {"data":{"name":"marker"},"mark":{"type":"tick","orient":"vertical","color":"#000000","thickness":5,"size":85},"encoding":{"x":{"field":"pos","type":"quantitative"}}}
]},
{"width":1065,"height":9,"layer":[
 {"data":{"name":"guides"},"mark":{"type":"tick","orient":"vertical","color":"#dcdcfa","thickness":2,"size":9},"encoding":{"x":{"field":"g","type":"quantitative","scale":{"domain":[50114499,50114998],"nice":false,"zero":false}}}},
 {"data":{"values":[{"label":"UCSC Genes Based on RefSeq, UniProt, GenBank, CCDS and Comparative Genomics"}]},"mark":{"type":"text","baseline":"alphabetic","dy":-1.2,"color":"#22228c"},"encoding":{"y":{"datum":1,"type":"quantitative","scale":{"domain":[0,1],"nice":false,"zero":false},"axis":{"labels":false,"title":null}},"text":{"field":"label","type":"nominal"}}},
 {"data":{"name":"marker"},"mark":{"type":"tick","orient":"vertical","color":"#000000","thickness":5,"size":9},"encoding":{"x":{"field":"pos","type":"quantitative"}}}
]},
{"width":1065,"height":17,"layer":[
 {"data":{"name":"guides"},"mark":{"type":"tick","orient":"vertical","color":"#dcdcfa","thickness":2,"size":17},"encoding":{"x":{"field":"g","type":"quantitative","scale":{"domain":[50114499,50114998],"nice":false,"zero":false}}}},
 {"data":{"values":[{"label":"RefSeq Genes"}]},"mark":{"type":"text","baseline":"alphabetic","dy":-1.5,"color":"#22228c"},"encoding":{"y":{"datum":1,"type":"quantitative","scale":{"domain":[0,1],"nice":false,"zero":false},"axis":{"labels":false,"title":"RefSeq Genes","titleColor":"#22228c","titleX":-1,"titleY":0.7,"titleAlign":"right"}},"text":{"field":"label","type":"nominal"}}},
 {"data":{"name":"marker"},"mark":{"type":"tick","orient":"vertical","color":"#000000","thickness":5,"size":17},"encoding":{"x":{"field":"pos","type":"quantitative"}}}
]},
{"width":1065,"height":18,"layer":[
 {"data":{"name":"guides"},"mark":{"type":"tick","orient":"vertical","color":"#dcdcfa","thickness":2,"size":18},"encoding":{"x":{"field":"g","type":"quantitative","scale":{"domain":[50114499,50114998],"nice":false,"zero":false}}}},
 {"data":{"values":[{"label":"Human mRNAs from GenBank"}]},"mark":{"type":"text","baseline":"alphabetic","dy":-0.8,"color":"#000000"},"encoding":{"y":{"datum":1,"type":"quantitative","scale":{"domain":[0,1],"nice":false,"zero":false},"axis":{"labels":false,"title":"Human mRNAs","titleX":-1,"titleY":2,"titleAlign":"right"}},"text":{"field":"label","type":"nominal"}}},
 {"data":{"name":"marker"},"mark":{"type":"tick","orient":"vertical","color":"#000000","thickness":5,"size":18},"encoding":{"x":{"field":"pos","type":"quantitative"}}}
]},
{"width":1065,"height":16,"layer":[
 {"data":{"name":"guides"},"mark":{"type":"tick","orient":"vertical","color":"#dcdcfa","thickness":2,"size":16},"encoding":{"x":{"field":"g","type":"quantitative","scale":{"domain":[50114499,50114998],"nice":false,"zero":false}}}},
 {"data":{"values":[{"s":50114499,"e":50114998}]},"mark":{"type":"rule","color":"#000000","strokeWidth":1,"strokeDash":[3,2]},"encoding":{"x":{"field":"s","type":"quantitative"},"x2":{"field":"e"},"y":{"datum":0.956,"type":"quantitative"}}},
 {"data":{"values":[{"label":"Human ESTs That Have Been Spliced"}]},"mark":{"type":"text","baseline":"alphabetic","dy":-1.2,"color":"#000000"},"encoding":{"y":{"datum":1,"type":"quantitative","scale":{"domain":[0,1],"nice":false,"zero":false},"axis":{"labels":false,"title":"Spliced ESTs","titleX":-1,"titleY":1.7,"titleAlign":"right"}},"text":{"field":"label","type":"nominal"}}},
 {"data":{"name":"marker"},"mark":{"type":"tick","orient":"vertical","color":"#000000","thickness":5,"size":16},"encoding":{"x":{"field":"pos","type":"quantitative"}}}
]},
{"width":1065,"height":37,"layer":[
 {"data":{"name":"guides"},"mark":{"type":"tick","orient":"vertical","color":"#dcdcfa","thickness":2,"size":37},"encoding":{"x":{"field":"g","type":"quantitative","scale":{"domain":[50114499,50114998],"nice":false,"zero":false}}}},
 {"data":{"name":"enh"},"mark":{"type":"rule","strokeWidth":2.5},"encoding":{"x":{"field":"s","type":"quantitative"},"x2":{"field":"e"},"y":{"field":"v","type":"quantitative","scale":{"domain":[-24,50],"nice":false,"zero":false},"axis":{"values":[0,50],"ticks":true,"tickColor":"#000000","tickOpacity":{"condition":{"test":"datum.value === 0","value":0},"value":1},"title":"Enhancer H3K4Me1","titleX":-178,"titleY":8.3,"titleAlign":"left"}},"color":{"field":"cell","type":"nominal","scale":{"domain":["HUVEC","K562","HMEC","H1-hESC"],"range":["#ff8fd0","#f07c7c","#b3b3ee","#a6cf8c"]},"legend":null}}},
 {"data":{"values":[{"label":"ENCODE Enhancer and Promoter Histone Mark (H3K4Me1) on 8 Cell Lines"}]},"mark":{"type":"text","baseline":"alphabetic","dy":-0.5,"color":"#000000"},"encoding":{"y":{"datum":50,"type":"quantitative"},"text":{"field":"label","type":"nominal"}}},
 {"data":{"name":"marker"},"mark":{"type":"tick","orient":"vertical","color":"#000000","thickness":5,"size":37},"encoding":{"x":{"field":"pos","type":"quantitative"}}}
]},
{"width":1065,"height":30,"layer":[
 {"data":{"name":"guides"},"mark":{"type":"tick","orient":"vertical","color":"#dcdcfa","thickness":2,"size":30},"encoding":{"x":{"field":"g","type":"quantitative","scale":{"domain":[50114499,50114998],"nice":false,"zero":false}}}},
 {"data":{"name":"prom"},"mark":{"type":"rule","strokeWidth":2},"encoding":{"x":{"field":"s","type":"quantitative"},"x2":{"field":"e"},"y":{"field":"v","type":"quantitative","scale":{"domain":[-15.38,100],"nice":false,"zero":false},"axis":{"values":[0,100],"ticks":true,"tickColor":"#000000","tickOpacity":{"condition":{"test":"datum.value === 0","value":0},"value":1},"title":"Promoter H3K4Me3","titleX":-178,"titleY":7.7,"titleAlign":"left"}},"color":{"field":"cell","type":"nominal","scale":{"domain":["HUVEC","GM12878"],"range":["#ff8fd0","#b3a2a2"]},"legend":null}}},
 {"data":{"values":[{"label":"ENCODE Promoter Histone Mark (H3K4Me3) on 9 Cell Lines"}]},"mark":{"type":"text","baseline":"alphabetic","dy":0.8,"color":"#000000"},"encoding":{"y":{"datum":100,"type":"quantitative"},"text":{"field":"label","type":"nominal"}}},
 {"data":{"name":"marker"},"mark":{"type":"tick","orient":"vertical","color":"#000000","thickness":5,"size":30},"encoding":{"x":{"field":"pos","type":"quantitative"}}}
]},
{"width":1065,"height":41,"layer":[
 {"data":{"name":"guides"},"mark":{"type":"tick","orient":"vertical","color":"#dcdcfa","thickness":2,"size":41},"encoding":{"x":{"field":"g","type":"quantitative","scale":{"domain":[50114499,50114998],"nice":false,"zero":false}}}},
 {"data":{"values":[{"label":"ENCODE Digital DNaseI Hypersensitivity Clusters"}]},"mark":{"type":"text","baseline":"alphabetic","dy":7.5,"color":"#000000"},"encoding":{"y":{"datum":1,"type":"quantitative","scale":{"domain":[0,1],"nice":false,"zero":false},"axis":{"labels":false,"title":"HEY1","titleX":-1,"titleY":18.7,"titleAlign":"right"}},"text":{"field":"label","type":"nominal"}}},
 {"data":{"values":[{"label":"ENCODE Transcription Factor ChIP-seq"}]},"mark":{"type":"text","baseline":"alphabetic","dy":15.4,"color":"#000000"},"encoding":{"y":{"datum":1,"type":"quantitative"},"text":{"field":"label","type":"nominal"}}},
 {"data":{"name":"tfbs"},"mark":{"type":"rect","color":"#dedede"},"encoding":{"x":{"field":"s","type":"quantitative"},"x2":{"field":"e"},"y":{"datum":0.65,"type":"quantitative"},"y2":{"datum":0.42}}},
 {"data":{"name":"marker"},"mark":{"type":"tick","orient":"vertical","color":"#000000","thickness":5,"size":41},"encoding":{"x":{"field":"pos","type":"quantitative"}}}
]},
{"width":1065,"height":45,"layer":[
 {"data":{"name":"guides"},"mark":{"type":"tick","orient":"vertical","color":"#dcdcfa","thickness":2,"size":45},"encoding":{"x":{"field":"g","type":"quantitative","scale":{"domain":[50114499,50114998],"nice":false,"zero":false}}}},
 {"data":{"name":"phylop"},"transform":[{"filter":"datum.v > 0"}],"mark":{"type":"rect","color":"#1c1c6e"},"encoding":{"x":{"field":"s","type":"quantitative"},"x2":{"field":"e"},"y":{"field":"v","type":"quantitative","scale":{"domain":[-0.5,3],"nice":false,"zero":false,"clamp":true},"axis":{"values":[-0.5,3],"ticks":true,"tickColor":"#25258f","tickOpacity":{"condition":{"test":"datum.value < 0","value":0},"value":1},"labelExpr":"datum.value < 0 ? '-' + format(-datum.value, '') : datum.label","labelColor":{"condition":{"test":"datum.value < 0","value":"#8b2d2d"},"value":"#25258f"},"labelBaseline":{"condition":{"test":"datum.value < 0","value":"middle"},"value":"alphabetic"},"title":"Mammal Cons","titleColor":"#25258f","titleX":-178,"titleY":19,"titleAlign":"left"}},"y2":{"datum":0}}},
 {"data":{"name":"phylop"},"transform":[{"filter":"datum.v < 0"}],"mark":{"type":"rect","color":"#6b1717"},"encoding":{"x":{"field":"s","type":"quantitative"},"x2":{"field":"e"},"y":{"field":"v","type":"quantitative"},"y2":{"datum":0}}},
 {"data":{"name":"phylop"},"transform":[{"filter":"datum.v < -0.5"}],"mark":{"type":"rect","color":"#ff00ff"},"encoding":{"x":{"field":"s","type":"quantitative"},"x2":{"field":"e"},"y":{"datum":-0.5,"type":"quantitative"},"y2":{"datum":-0.36}}},
 {"data":{"values":[{"v":0}]},"mark":{"type":"rule","color":"#6b1717","strokeWidth":2},"encoding":{"y":{"datum":-0.08,"type":"quantitative"}}},
 {"data":{"values":[{"label":"Vertebrate Multiz Alignment & Conservation (44 Species)"}]},"mark":{"type":"text","baseline":"alphabetic","dy":-6.6,"color":"#000000"},"encoding":{"y":{"datum":3,"type":"quantitative"},"text":{"field":"label","type":"nominal"}}},
 {"data":{"values":[{"label":"Placental Mammal Basewise Conservation by PhyloP"}]},"mark":{"type":"text","baseline":"alphabetic","dy":1.8,"color":"#22228c"},"encoding":{"y":{"datum":3,"type":"quantitative"},"text":{"field":"label","type":"nominal"}}},
 {"data":{"name":"marker"},"mark":{"type":"tick","orient":"vertical","color":"#000000","thickness":5,"size":45},"encoding":{"x":{"field":"pos","type":"quantitative"}}}
]},
{"width":1065,"height":105,"layer":[
 {"data":{"name":"guides"},"mark":{"type":"tick","orient":"vertical","color":"#dcdcfa","thickness":2,"size":105},"encoding":{"x":{"field":"g","type":"quantitative","scale":{"domain":[50114499,50114998],"nice":false,"zero":false}}}},
 {"data":{"name":"species"},"mark":{"type":"rule","color":"#a6a6a6","strokeWidth":1},"encoding":{"y":{"field":"sp","type":"nominal","bandPosition":0.3,"scale":{"type":"band","domain":["Rhesus","Mouse","Dog","Elephant","Opossum","Platypus","Chicken","Lizard","X_tropicalis","Stickleback"],"paddingInner":0,"paddingOuter":1.1765},"axis":{"labelBaseline":"middle","labelPadding":2,"labelFontSize":12.5,"labelColor":{"condition":{"test":"datum.value === 'Mouse' || datum.value === 'Elephant'","value":"#1f7a1f"},"value":"#25258f"},"title":null}}}},
 {"data":{"name":"species"},"mark":{"type":"rule","color":"#a6a6a6","strokeWidth":1},"encoding":{"y":{"field":"sp","type":"nominal","bandPosition":0.72}}},
 {"data":{"name":"multiz"},"transform":[{"filter":"datum.c !== 'k'"}],"mark":{"type":"rect"},"encoding":{"x":{"field":"s","type":"quantitative"},"x2":{"field":"e"},"y":{"field":"sp","type":"nominal"},"color":{"field":"c","type":"nominal","scale":{"domain":["g","l"],"range":["#9c9c9c","#dcdcdc"]},"legend":null}}},
 {"data":{"name":"multiz"},"transform":[{"filter":"datum.c === 'k' && datum.sp !== 'Rhesus'"}],"mark":{"type":"rect","color":"#101010"},"encoding":{"x":{"field":"s","type":"quantitative"},"x2":{"field":"e"},"y":{"field":"sp","type":"nominal"}}},
 {"data":{"name":"multiz"},"transform":[{"filter":"datum.c === 'k' && datum.sp === 'Rhesus'"}],"mark":{"type":"rect","color":"#101010","stroke":"#ffffff","strokeWidth":0.8},"encoding":{"x":{"field":"s","type":"quantitative"},"x2":{"field":"e"},"y":{"field":"sp","type":"nominal"}}},
 {"data":{"values":[{"sp":"Elephant","pos":50114854,"sym":"]"}]},"mark":{"type":"text","color":"#22bb22","fontWeight":"bold","fontSize":11,"baseline":"middle"},"encoding":{"x":{"field":"pos","type":"quantitative"},"y":{"field":"sp","type":"nominal"},"text":{"field":"sym","type":"nominal"}}},
 {"data":{"values":[{"label":"Multiz Alignments of 44 Vertebrates"}]},"mark":{"type":"text","baseline":"alphabetic","dy":-1.05,"color":"#25258f"},"encoding":{"y":{"datum":"Rhesus","type":"nominal"},"text":{"field":"label","type":"nominal"}}},
 {"data":{"name":"marker"},"mark":{"type":"tick","orient":"vertical","color":"#000000","thickness":5,"size":105},"encoding":{"x":{"field":"pos","type":"quantitative"}}}
]},
{"width":1065,"height":29,"layer":[
 {"data":{"name":"guides"},"mark":{"type":"tick","orient":"vertical","color":"#dcdcfa","thickness":2,"size":29},"encoding":{"x":{"field":"g","type":"quantitative","scale":{"domain":[50114499,50114998],"nice":false,"zero":false}}}},
 {"data":{"name":"snps"},"mark":{"type":"tick","color":"#000000","thickness":1.5,"size":9},"encoding":{"x":{"field":"pos","type":"quantitative"},"y":{"field":"row","type":"ordinal","scale":{"type":"point","domain":[1,2,3],"padding":0.611,"align":0.27},"axis":{"labelBaseline":"middle","labelPadding":2,"labelFontSize":14.5,"labelExpr":"datum.value == 1 ? 'rs35908511' : ''","title":null}}}},
 {"data":{"name":"snps"},"transform":[{"filter":"datum.side !== 'left'"}],"mark":{"type":"text","align":"right","baseline":"middle","dx":-4,"color":"#000000","fontSize":14.5},"encoding":{"x":{"field":"pos","type":"quantitative"},"y":{"field":"row","type":"ordinal"},"text":{"field":"name","type":"nominal"}}},
 {"data":{"values":[{"label":"Simple Nucleotide Polymorphisms (dbSNP build 130)"}]},"mark":{"type":"text","baseline":"alphabetic","dy":-2.2,"color":"#000000"},"encoding":{"y":{"datum":1,"type":"ordinal"},"text":{"field":"label","type":"nominal"}}},
 {"data":{"name":"marker"},"mark":{"type":"tick","orient":"vertical","color":"#000000","thickness":5,"size":29},"encoding":{"x":{"field":"pos","type":"quantitative"}}}
]},
{"width":1065,"height":25,"layer":[
 {"data":{"name":"guides"},"mark":{"type":"tick","orient":"vertical","color":"#dcdcfa","thickness":2,"size":25},"encoding":{"x":{"field":"g","type":"quantitative","scale":{"domain":[50114499,50114998],"nice":false,"zero":false}}}},
 {"data":{"values":[{"label":"Repeating Elements by RepeatMasker"}]},"mark":{"type":"text","baseline":"alphabetic","dy":7.5,"color":"#000000"},"encoding":{"y":{"datum":1,"type":"quantitative","scale":{"domain":[0,1],"nice":false,"zero":false},"axis":{"labels":false,"title":"RepeatMasker","titleX":-1,"titleY":8.7,"titleAlign":"right"}},"text":{"field":"label","type":"nominal"}}},
 {"data":{"name":"rmsk"},"mark":{"type":"rect","color":"#000000"},"encoding":{"x":{"field":"s","type":"quantitative"},"x2":{"field":"e"},"y":{"datum":0.79,"type":"quantitative"},"y2":{"datum":0.35}}},
 {"data":{"name":"marker"},"mark":{"type":"tick","orient":"vertical","color":"#000000","thickness":5,"size":25},"encoding":{"x":{"field":"pos","type":"quantitative"}}}
]}
]
}
